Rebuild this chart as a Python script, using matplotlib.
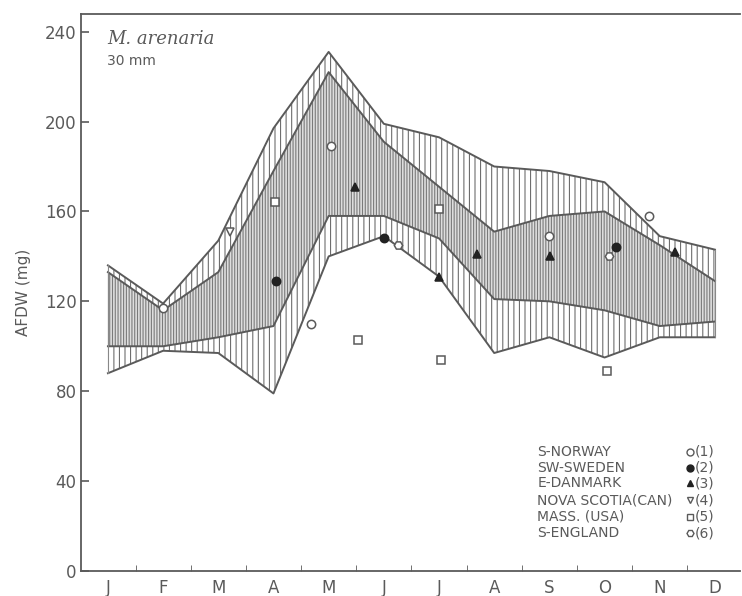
import numpy as np
import matplotlib
matplotlib.use("Agg")
import matplotlib.pyplot as plt

months = ["J", "F", "M", "A", "M", "J", "J", "A", "S", "O", "N", "D"]
month_pos = np.arange(12)

# envelope lines, AFDW (mg) at each month
outer_upper = [136, 119, 147, 197, 231, 199, 193, 180, 178, 173, 149, 143]
inner_upper = [133, 116, 133, 178, 222, 191, 171, 151, 158, 160, 145, 129]
inner_lower = [100, 100, 104, 109, 158, 158, 148, 121, 120, 116, 109, 111]
outer_lower = [88, 98, 97, 79, 140, 149, 131, 97, 104, 95, 104, 104]

# observations: (month position, AFDW)
norway_x = [1.0, 3.68, 4.04, 8.0, 9.8]
norway_y = [117, 110, 189, 149, 158]
sweden_x = [3.04, 5.0, 9.2]
sweden_y = [129, 148, 144]
danmark_x = [4.47, 6.0, 6.68, 8.02, 10.27]
danmark_y = [171, 131, 141, 140, 142]
scotia_x = [2.21]
scotia_y = [151]
usa_x = [3.03, 4.53, 6.0, 6.03, 9.04]
usa_y = [164, 103, 161, 94, 89]
england_x = [5.25, 9.08]
england_y = [145, 140]

legend_names = ["S-NORWAY", "SW-SWEDEN", "E-DANMARK", "NOVA SCOTIA(CAN)",
                "MASS. (USA)", "S-ENGLAND"]

grey = "#5a5a5a"
plt.rcParams["hatch.linewidth"] = 0.8

fig = plt.figure(figsize=(7.42, 5.96), dpi=100)
ax = fig.add_axes([0.109, 0.042, 0.888, 0.935])

ax.fill_between(month_pos, outer_lower, outer_upper, facecolor="white",
                edgecolor="#6e6e6e", hatch="|||", linewidth=0)
ax.fill_between(month_pos, inner_lower, inner_upper, facecolor="#dedede",
                edgecolor="#7a7a7a", hatch="||||||", linewidth=0)
for line in [outer_upper, inner_upper, inner_lower, outer_lower]:
    ax.plot(month_pos, line, color=grey, lw=1.4)
ax.plot([0, 0], [outer_lower[0], outer_upper[0]], color="#888888", lw=0.8)
ax.plot([11, 11], [outer_lower[-1], outer_upper[-1]], color="#888888", lw=0.8)

ms = 6
styles = [
    dict(marker="o", mfc="white", mec=grey),
    dict(marker="o", mfc="#222222", mec="#222222"),
    dict(marker="^", mfc="#222222", mec="#222222"),
    dict(marker="v", mfc="white", mec=grey),
    dict(marker="s", mfc="white", mec=grey),
    dict(marker="H", mfc="white", mec=grey),
]
series = [(norway_x, norway_y), (sweden_x, sweden_y), (danmark_x, danmark_y),
          (scotia_x, scotia_y), (usa_x, usa_y), (england_x, england_y)]
for (xs, ys), st in zip(series, styles):
    ax.plot(xs, ys, ls="none", ms=ms, mew=1.1, zorder=5, **st)

# legend drawn as text block
row_y = [0.214, 0.185, 0.157, 0.127, 0.0975, 0.068]
for i, (name, st) in enumerate(zip(legend_names, styles)):
    ax.text(0.693, row_y[i], name, transform=ax.transAxes, fontsize=10,
            color=grey, va="center", ha="left")
    ax.plot([0.925], [row_y[i]], transform=ax.transAxes, ls="none",
            ms=5, mew=1.0, clip_on=False, **st)
    ax.text(0.932, row_y[i], f"({i + 1})", transform=ax.transAxes,
            fontsize=10, color=grey, va="center", ha="left")

ax.text(0.04, 0.955, "M. arenaria", transform=ax.transAxes, fontsize=13,
        style="italic", family="DejaVu Serif", color=grey, va="center")
ax.text(0.04, 0.915, "30 mm", transform=ax.transAxes, fontsize=10,
        color=grey, va="center")

ax.set_xlim(-0.49, 11.45)
ax.set_ylim(0, 248)
ax.set_yticks(np.arange(0, 241, 40))
ax.set_xticks(month_pos)
ax.set_xticklabels(months)
ax.set_xticks(month_pos[:-1] + 0.5, minor=True)
ax.tick_params(axis="x", which="major", length=0, pad=6, labelsize=12,
               labelcolor=grey)
ax.tick_params(axis="x", which="minor", direction="in", length=4,
               color=grey)
ax.tick_params(axis="y", direction="in", length=6, width=1.2, color=grey,
               labelsize=12, labelcolor=grey, pad=3)
ax.set_ylabel("AFDW (mg)", fontsize=11, color=grey, labelpad=10)
ax.spines["right"].set_visible(False)
for s in ["left", "bottom", "top"]:
    ax.spines[s].set_color(grey)
    ax.spines[s].set_linewidth(1.3)

fig.savefig("out.png", dpi=100)
